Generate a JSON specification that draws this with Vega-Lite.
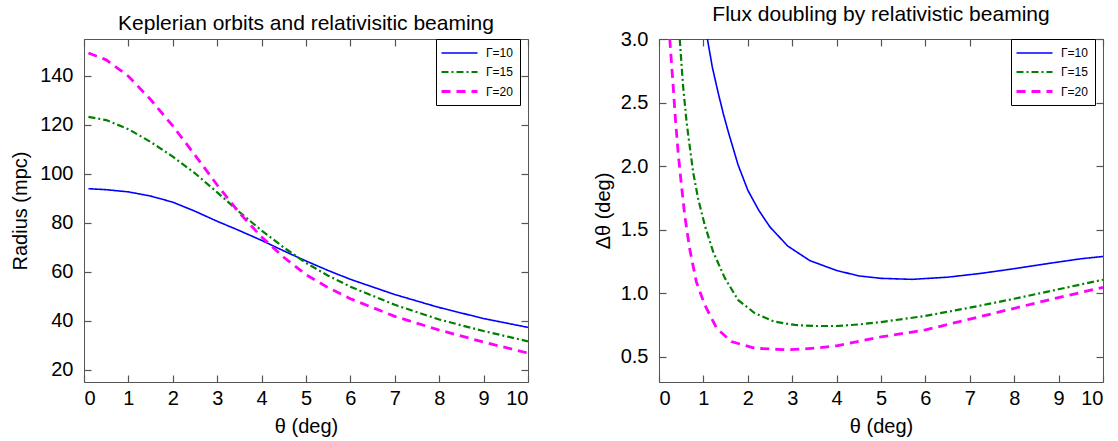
{
  "$schema": "https://vega.github.io/schema/vega-lite/v6.json",
  "padding": {"left": 10, "top": 3, "right": 5, "bottom": 2},
  "config": {
    "font": "Liberation Sans",
    "view": {"stroke": "#555", "strokeWidth": 1, "fill": "transparent"},
    "axis": {"grid": false, "domain": false, "ticks": true, "zindex": 1, "minExtent": 0, "tickColor": "#555", "tickWidth": 1.2, "tickSize": 7, "offset": -7, "labelFontSize": 20, "titleFontSize": 20, "titleFontWeight": "normal", "labelColor": "#000", "titleColor": "#000"},
    "title": {"fontSize": 21, "fontWeight": "normal", "color": "#000"},
    "legend": {"strokeColor": "#000", "fillColor": "#fff", "padding": 7, "symbolType": "M-3,0H3", "symbolSize": 144, "symbolOffset": 9, "symbolStrokeWidth": 2.5, "labelFontSize": 12, "labelOffset": 19, "rowPadding": 5.5, "orient": "none", "legendX": 352, "legendY": 0, "title": null, "zindex": 2}
  },
  "datasets": {
    "radius": [
      {"theta": 0.1, "value": 93.9, "gamma": "Γ=10"},
      {"theta": 0.5, "value": 93.5, "gamma": "Γ=10"},
      {"theta": 1, "value": 92.6, "gamma": "Γ=10"},
      {"theta": 1.5, "value": 90.9, "gamma": "Γ=10"},
      {"theta": 2, "value": 88.4, "gamma": "Γ=10"},
      {"theta": 2.5, "value": 84.7, "gamma": "Γ=10"},
      {"theta": 3, "value": 80.6, "gamma": "Γ=10"},
      {"theta": 3.5, "value": 76.8, "gamma": "Γ=10"},
      {"theta": 4, "value": 72.8, "gamma": "Γ=10"},
      {"theta": 4.5, "value": 68.5, "gamma": "Γ=10"},
      {"theta": 5, "value": 64.4, "gamma": "Γ=10"},
      {"theta": 5.5, "value": 60.5, "gamma": "Γ=10"},
      {"theta": 6, "value": 56.9, "gamma": "Γ=10"},
      {"theta": 7, "value": 50.7, "gamma": "Γ=10"},
      {"theta": 8, "value": 45.4, "gamma": "Γ=10"},
      {"theta": 9, "value": 40.9, "gamma": "Γ=10"},
      {"theta": 10, "value": 37.3, "gamma": "Γ=10"},
      {"theta": 0.1, "value": 123.2, "gamma": "Γ=15"},
      {"theta": 0.5, "value": 121.9, "gamma": "Γ=15"},
      {"theta": 1, "value": 118.2, "gamma": "Γ=15"},
      {"theta": 1.5, "value": 113.0, "gamma": "Γ=15"},
      {"theta": 2, "value": 107.0, "gamma": "Γ=15"},
      {"theta": 2.5, "value": 100.2, "gamma": "Γ=15"},
      {"theta": 3, "value": 92.4, "gamma": "Γ=15"},
      {"theta": 3.5, "value": 84.4, "gamma": "Γ=15"},
      {"theta": 4, "value": 76.8, "gamma": "Γ=15"},
      {"theta": 4.5, "value": 69.9, "gamma": "Γ=15"},
      {"theta": 5, "value": 63.6, "gamma": "Γ=15"},
      {"theta": 5.5, "value": 58.4, "gamma": "Γ=15"},
      {"theta": 6, "value": 53.9, "gamma": "Γ=15"},
      {"theta": 7, "value": 46.5, "gamma": "Γ=15"},
      {"theta": 8, "value": 40.5, "gamma": "Γ=15"},
      {"theta": 9, "value": 35.8, "gamma": "Γ=15"},
      {"theta": 10, "value": 31.6, "gamma": "Γ=15"},
      {"theta": 0.1, "value": 149.3, "gamma": "Γ=20"},
      {"theta": 0.5, "value": 146.5, "gamma": "Γ=20"},
      {"theta": 1, "value": 139.8, "gamma": "Γ=20"},
      {"theta": 1.5, "value": 130.3, "gamma": "Γ=20"},
      {"theta": 2, "value": 119.5, "gamma": "Γ=20"},
      {"theta": 2.5, "value": 107.6, "gamma": "Γ=20"},
      {"theta": 3, "value": 95.4, "gamma": "Γ=20"},
      {"theta": 3.5, "value": 84.0, "gamma": "Γ=20"},
      {"theta": 4, "value": 74.2, "gamma": "Γ=20"},
      {"theta": 4.5, "value": 65.9, "gamma": "Γ=20"},
      {"theta": 5, "value": 58.8, "gamma": "Γ=20"},
      {"theta": 5.5, "value": 53.5, "gamma": "Γ=20"},
      {"theta": 6, "value": 49.0, "gamma": "Γ=20"},
      {"theta": 7, "value": 41.8, "gamma": "Γ=20"},
      {"theta": 8, "value": 36.2, "gamma": "Γ=20"},
      {"theta": 9, "value": 31.3, "gamma": "Γ=20"},
      {"theta": 10, "value": 26.8, "gamma": "Γ=20"}
    ],
    "flux": [
      {"theta": 1.09, "value": 3.0, "gamma": "Γ=10"},
      {"theta": 1.2, "value": 2.78, "gamma": "Γ=10"},
      {"theta": 1.33, "value": 2.58, "gamma": "Γ=10"},
      {"theta": 1.45, "value": 2.41, "gamma": "Γ=10"},
      {"theta": 1.56, "value": 2.27, "gamma": "Γ=10"},
      {"theta": 1.78, "value": 2.01, "gamma": "Γ=10"},
      {"theta": 2.0, "value": 1.81, "gamma": "Γ=10"},
      {"theta": 2.25, "value": 1.65, "gamma": "Γ=10"},
      {"theta": 2.5, "value": 1.52, "gamma": "Γ=10"},
      {"theta": 2.9, "value": 1.37, "gamma": "Γ=10"},
      {"theta": 3.4, "value": 1.255, "gamma": "Γ=10"},
      {"theta": 4.0, "value": 1.178, "gamma": "Γ=10"},
      {"theta": 4.5, "value": 1.135, "gamma": "Γ=10"},
      {"theta": 5.0, "value": 1.116, "gamma": "Γ=10"},
      {"theta": 5.7, "value": 1.108, "gamma": "Γ=10"},
      {"theta": 6.5, "value": 1.125, "gamma": "Γ=10"},
      {"theta": 7.25, "value": 1.155, "gamma": "Γ=10"},
      {"theta": 8.0, "value": 1.192, "gamma": "Γ=10"},
      {"theta": 8.75, "value": 1.232, "gamma": "Γ=10"},
      {"theta": 9.5, "value": 1.27, "gamma": "Γ=10"},
      {"theta": 10, "value": 1.288, "gamma": "Γ=10"},
      {"theta": 0.467, "value": 3.0, "gamma": "Γ=15"},
      {"theta": 0.54, "value": 2.64, "gamma": "Γ=15"},
      {"theta": 0.62, "value": 2.35, "gamma": "Γ=15"},
      {"theta": 0.69, "value": 2.16, "gamma": "Γ=15"},
      {"theta": 0.77, "value": 1.95, "gamma": "Γ=15"},
      {"theta": 0.88, "value": 1.745, "gamma": "Γ=15"},
      {"theta": 1.03, "value": 1.535, "gamma": "Γ=15"},
      {"theta": 1.22, "value": 1.325, "gamma": "Γ=15"},
      {"theta": 1.48, "value": 1.12, "gamma": "Γ=15"},
      {"theta": 1.78, "value": 0.946, "gamma": "Γ=15"},
      {"theta": 2.16, "value": 0.841, "gamma": "Γ=15"},
      {"theta": 2.6, "value": 0.775, "gamma": "Γ=15"},
      {"theta": 3.06, "value": 0.749, "gamma": "Γ=15"},
      {"theta": 3.5, "value": 0.741, "gamma": "Γ=15"},
      {"theta": 4.0, "value": 0.741, "gamma": "Γ=15"},
      {"theta": 4.5, "value": 0.753, "gamma": "Γ=15"},
      {"theta": 5.0, "value": 0.772, "gamma": "Γ=15"},
      {"theta": 6.0, "value": 0.82, "gamma": "Γ=15"},
      {"theta": 7.0, "value": 0.885, "gamma": "Γ=15"},
      {"theta": 8.0, "value": 0.955, "gamma": "Γ=15"},
      {"theta": 9.0, "value": 1.03, "gamma": "Γ=15"},
      {"theta": 10, "value": 1.105, "gamma": "Γ=15"},
      {"theta": 0.242, "value": 3.0, "gamma": "Γ=20"},
      {"theta": 0.317, "value": 2.64, "gamma": "Γ=20"},
      {"theta": 0.37, "value": 2.37, "gamma": "Γ=20"},
      {"theta": 0.43, "value": 2.11, "gamma": "Γ=20"},
      {"theta": 0.505, "value": 1.85, "gamma": "Γ=20"},
      {"theta": 0.58, "value": 1.61, "gamma": "Γ=20"},
      {"theta": 0.69, "value": 1.35, "gamma": "Γ=20"},
      {"theta": 0.84, "value": 1.09, "gamma": "Γ=20"},
      {"theta": 1.03, "value": 0.907, "gamma": "Γ=20"},
      {"theta": 1.3, "value": 0.723, "gamma": "Γ=20"},
      {"theta": 1.63, "value": 0.618, "gamma": "Γ=20"},
      {"theta": 2.16, "value": 0.566, "gamma": "Γ=20"},
      {"theta": 2.9, "value": 0.553, "gamma": "Γ=20"},
      {"theta": 3.5, "value": 0.566, "gamma": "Γ=20"},
      {"theta": 4.0, "value": 0.585, "gamma": "Γ=20"},
      {"theta": 5.0, "value": 0.655, "gamma": "Γ=20"},
      {"theta": 6.0, "value": 0.71, "gamma": "Γ=20"},
      {"theta": 7.0, "value": 0.795, "gamma": "Γ=20"},
      {"theta": 8.0, "value": 0.88, "gamma": "Γ=20"},
      {"theta": 9.0, "value": 0.965, "gamma": "Γ=20"},
      {"theta": 10, "value": 1.045, "gamma": "Γ=20"}
    ]
  },
  "bounds": "flush",
  "spacing": 131,
  "resolve": {
    "scale": {"color": "independent", "strokeDash": "independent", "strokeWidth": "independent"},
    "legend": {"color": "independent", "strokeDash": "independent", "strokeWidth": "independent"}
  },
  "hconcat": [
    {
      "width": 444,
      "height": 343,
      "title": {"text": "Keplerian orbits and relativisitic beaming", "anchor": "middle", "frame": "group", "baseline": "bottom", "offset": -17},
      "data": {"name": "radius"},
      "resolve": {"axis": {"x": "independent", "y": "independent"}},
      "layer": [
        {
          "mark": {"type": "line", "clip": true},
          "encoding": {
            "x": {"field": "theta", "type": "quantitative", "scale": {"domain": [0, 10], "nice": false, "zero": false},
                  "axis": {"orient": "bottom", "title": "θ (deg)", "values": [0,1,2,3,4,5,6,7,8,9,10], "format": "d", "labelPadding": 6, "titlePadding": 8}},
            "y": {"field": "value", "type": "quantitative", "scale": {"domain": [15, 155], "nice": false, "zero": false},
                  "axis": {"orient": "left", "title": "Radius (mpc)", "values": [20,40,60,80,100,120,140], "format": "d", "labelPadding": 11, "titlePadding": 9}},
            "color": {"field": "gamma", "type": "nominal", "scale": {"domain": ["Γ=10","Γ=15","Γ=20"], "range": ["#0000ff","#008000","#ff00ff"]}},
            "strokeDash": {"field": "gamma", "type": "nominal", "scale": {"domain": ["Γ=10","Γ=15","Γ=20"], "range": [[1,0],[7,3,2,3],[9,6]]}},
            "strokeWidth": {"field": "gamma", "type": "nominal", "scale": {"domain": ["Γ=10","Γ=15","Γ=20"], "range": [1.6,2.8,2.8]}}
          }
        },
        {
          "mark": {"type": "line", "opacity": 0},
          "encoding": {
            "x": {"field": "theta", "type": "quantitative", "axis": {"orient": "top", "title": null, "labels": false, "values": [0,1,2,3,4,5,6,7,8,9,10]}},
            "y": {"field": "value", "type": "quantitative", "axis": {"orient": "right", "title": null, "labels": false, "values": [20,40,60,80,100,120,140]}},
            "detail": {"field": "gamma"}
          }
        }
      ]
    },
    {
      "width": 444,
      "height": 343,
      "title": {"text": "Flux doubling by relativistic beaming", "anchor": "middle", "frame": "group", "baseline": "bottom", "offset": -17},
      "data": {"name": "flux"},
      "resolve": {"axis": {"x": "independent", "y": "independent"}},
      "layer": [
        {
          "mark": {"type": "line", "clip": true},
          "encoding": {
            "x": {"field": "theta", "type": "quantitative", "scale": {"domain": [0, 10], "nice": false, "zero": false},
                  "axis": {"orient": "bottom", "title": "θ (deg)", "values": [0,1,2,3,4,5,6,7,8,9,10], "format": "d", "labelPadding": 6, "titlePadding": 8}},
            "y": {"field": "value", "type": "quantitative", "scale": {"domain": [0.3, 3.0], "nice": false, "zero": false},
                  "axis": {"orient": "left", "title": "Δθ (deg)", "values": [0.5,1.0,1.5,2.0,2.5,3.0], "format": ".1f", "labelPadding": 11, "titlePadding": 7}},
            "color": {"field": "gamma", "type": "nominal", "scale": {"domain": ["Γ=10","Γ=15","Γ=20"], "range": ["#0000ff","#008000","#ff00ff"]}},
            "strokeDash": {"field": "gamma", "type": "nominal", "scale": {"domain": ["Γ=10","Γ=15","Γ=20"], "range": [[1,0],[7,3,2,3],[9,6]]}},
            "strokeWidth": {"field": "gamma", "type": "nominal", "scale": {"domain": ["Γ=10","Γ=15","Γ=20"], "range": [1.6,2.8,2.8]}}
          }
        },
        {
          "mark": {"type": "line", "opacity": 0},
          "encoding": {
            "x": {"field": "theta", "type": "quantitative", "axis": {"orient": "top", "title": null, "labels": false, "values": [0,1,2,3,4,5,6,7,8,9,10]}},
            "y": {"field": "value", "type": "quantitative", "axis": {"orient": "right", "title": null, "labels": false, "values": [0.5,1.0,1.5,2.0,2.5,3.0]}},
            "detail": {"field": "gamma"}
          }
        }
      ]
    }
  ]
}
